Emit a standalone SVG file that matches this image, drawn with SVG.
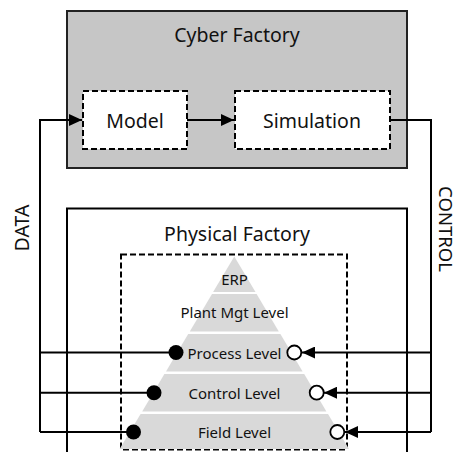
<svg xmlns="http://www.w3.org/2000/svg" width="460" height="452" viewBox="0 0 460 452">
<style>
text{font-family:"Noto Sans","Open Sans","DejaVu Sans",sans-serif;fill:#111;text-anchor:middle;dominant-baseline:central}
.big{font-size:19.5px}
.small{font-size:15px}
.ln{stroke:#000;stroke-width:2;fill:none}
.dash{stroke:#000;stroke-width:2;stroke-dasharray:6,3;fill:#fff}
.band{fill:#d9d9d9}
</style>
<defs>
<marker id="ah" markerWidth="13" markerHeight="12" refX="13" refY="6" orient="auto" markerUnits="userSpaceOnUse">
<path d="M0,0 L13,6 L0,12 Z" fill="#000"/>
</marker>
</defs>
<g id="cyber-factory">
<rect x="67" y="11" width="340" height="157" fill="#c6c6c6" stroke="#222" stroke-width="2"/>
<text class="big" x="237" y="34">Cyber Factory</text>
</g>
<g id="model">
<rect class="dash" x="83" y="91" width="104" height="58"/>
<text class="big" x="135" y="120">Model</text>
</g>
<g id="simulation">
<rect class="dash" x="235" y="91" width="155" height="58"/>
<text class="big" x="312" y="120">Simulation</text>
</g>
<g id="physical-factory">
<path d="M67,460 V208.5 H407 V460" fill="#fff" stroke="#000" stroke-width="2"/>
<text class="big" x="237" y="233">Physical Factory</text>
</g>
<g id="pyramid">
<rect x="121" y="254.5" width="226" height="195" fill="none" stroke="#000" stroke-width="2" stroke-dasharray="6,3"/>
<polygon class="band" points="234.3,256.5 255.5,292 213.1,292"/>
<polygon class="band" points="212,294 256.6,294 278.8,331.5 189.8,331.5"/>
<polygon class="band" points="188.2,334 280.4,334 302.6,371.5 166,371.5"/>
<polygon class="band" points="164.4,374 304.2,374 326.4,411.5 142.2,411.5"/>
<polygon class="band" points="140.6,414 328,414 349,449 119.6,449"/>
<text class="small" x="234.5" y="278.5">ERP</text>
<text class="small" x="234.5" y="312">Plant Mgt Level</text>
<text class="small" x="234.5" y="352.5">Process Level</text>
<text class="small" x="234.5" y="393">Control Level</text>
<text class="small" x="234.5" y="432">Field Level</text>
</g>
<g id="connectors">
<path class="ln" d="M40,432 V120 H82" marker-end="url(#ah)"/>
<path class="ln" d="M187,120 H234" marker-end="url(#ah)"/>
<path class="ln" d="M390,120 H431 V432"/>
<path class="ln" d="M40,352.5 H176"/>
<path class="ln" d="M40,392.7 H154"/>
<path class="ln" d="M40,432 H133.5"/>
<circle cx="176" cy="352.5" r="7.5" fill="#000"/>
<circle cx="154" cy="392.7" r="7.5" fill="#000"/>
<circle cx="133.5" cy="432" r="7.5" fill="#000"/>
<path class="ln" d="M431,352.5 H302" marker-end="url(#ah)"/>
<path class="ln" d="M431,392.7 H324" marker-end="url(#ah)"/>
<path class="ln" d="M431,432 H345" marker-end="url(#ah)"/>
<circle cx="294.3" cy="352.5" r="7" fill="#fff" stroke="#000" stroke-width="1.8"/>
<circle cx="316.7" cy="392.7" r="7" fill="#fff" stroke="#000" stroke-width="1.8"/>
<circle cx="337.3" cy="432" r="7" fill="#fff" stroke="#000" stroke-width="1.8"/>
</g>
<g id="labels">
<text class="big" transform="translate(21,228) rotate(-90)">DATA</text>
<text class="big" style="font-size:18.5px" transform="translate(446.5,229) rotate(90)">CONTROL</text>
</g>
</svg>
